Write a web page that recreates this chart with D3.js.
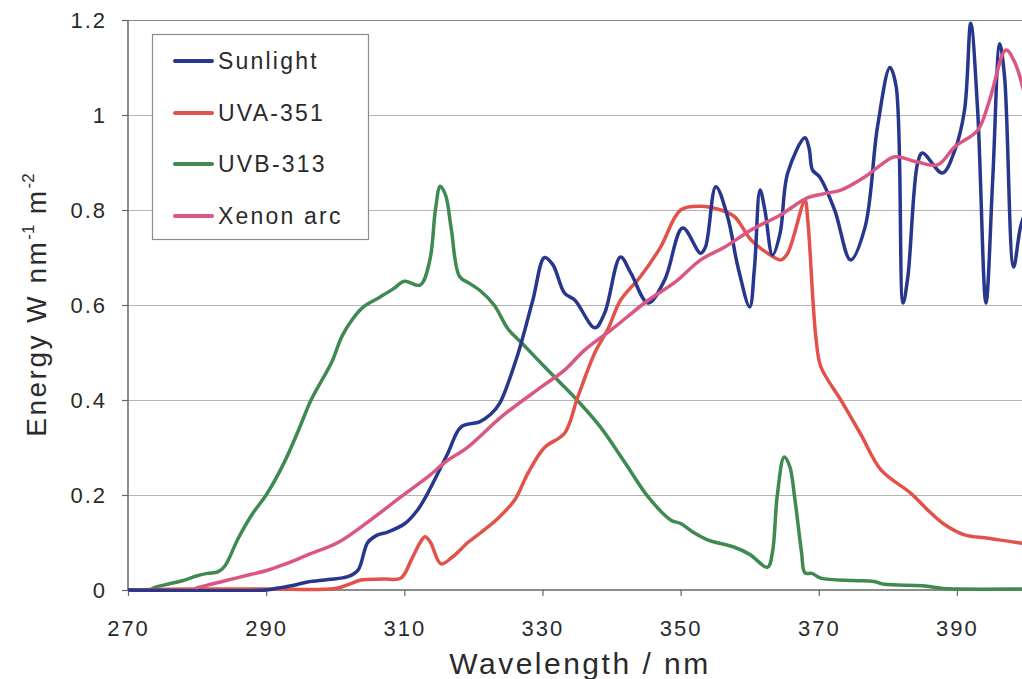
<!DOCTYPE html>
<html>
<head>
<meta charset="utf-8">
<script src="https://cdn.jsdelivr.net/npm/d3@7"></script>
<style>
  body { margin: 0; background: #fff; }
  svg { display: block; font-family: "Liberation Sans", Arial, sans-serif; }
</style>
</head>
<body>
<div id="chart"></div>
<script>
// values: [wavelength nm, energy W nm-1 m-2]
var sunlight = [
  [270,0],[290,0],[291.7,0.004],[294,0.01],[296,0.017],[299,0.022],[301.8,0.028],[303.3,0.042],
  [304.7,0.1],[306,0.115],[307.6,0.122],[310.1,0.14],[312,0.17],[313.4,0.204],[316.3,0.288],
  [318.2,0.343],[320.9,0.354],[322.5,0.37],[323.8,0.393],[326.3,0.49],[328.6,0.61],[330.3,0.7],
  [331.5,0.685],[333.2,0.625],[334.7,0.61],[337.6,0.552],[339,0.583],[341.3,0.701],[342.8,0.667],
  [345.3,0.604],[347.7,0.653],[350.3,0.762],[352.9,0.709],[353.6,0.722],[355.1,0.849],[356.8,0.786],
  [358.3,0.68],[360,0.596],[360.7,0.68],[361.5,0.842],[362.2,0.8],[363.3,0.705],[364.4,0.751],
  [365.5,0.878],[368,0.952],[368.6,0.93],[369.1,0.884],[370.1,0.87],[372.3,0.8],[374.6,0.695],
  [376.7,0.764],[378.5,0.975],[380.3,1.1],[381.2,1.06],[382.2,0.604],[382.9,0.66],[384.3,0.898],
  [385,0.92],[387.9,0.878],[389.7,0.926],[391.1,1.01],[392,1.193],[393,1.01],[394.2,0.604],
  [395.2,0.87],[396.2,1.15],[396.9,1.08],[398.2,0.68],[399.2,0.764],[400,0.8]
]
var uva351 = [
  [270,0],[273,0.001],[280,0.002],[290,0.002],[300,0.003],[302,0.012],[303.7,0.021],[307,0.023],
  [309.5,0.025],[311,0.063],[312.3,0.1],[313,0.112],[313.8,0.1],[315.3,0.055],[317,0.07],
  [319.2,0.1],[321,0.12],[323.5,0.15],[326,0.19],[327.9,0.246],[330.3,0.3],[333.2,0.33],
  [335.1,0.406],[337.6,0.5],[339.5,0.55],[341.3,0.61],[344.2,0.66],[347.1,0.722],[350,0.8],
  [352.9,0.808],[355.8,0.8],[357.8,0.786],[360.2,0.737],[362.6,0.709],[364.5,0.695],[365.5,0.709],
  [368,0.82],[368.4,0.78],[369.2,0.6],[369.6,0.53],[370.3,0.47],[373.2,0.4],[376,0.33],[379,0.253],
  [383.3,0.204],[385.8,0.168],[388,0.14],[391.1,0.116],[394.5,0.109],[399.2,0.099],[400,0.098]
]
var uvb313 = [
  [270,0],[273,0],[274,0.006],[276,0.013],[278,0.02],[280,0.03],[281.5,0.035],[283,0.038],
  [284,0.05],[286,0.11],[288,0.16],[290,0.2],[292.5,0.265],[294.5,0.33],[296.5,0.4],[298,0.44],
  [299.5,0.48],[301,0.535],[302.5,0.57],[304,0.595],[306.5,0.617],[308.5,0.635],[310,0.65],
  [312.3,0.642],[313.7,0.695],[314.5,0.8],[315.2,0.85],[316,0.83],[316.8,0.76],[318,0.66],
  [319.5,0.645],[321,0.63],[323,0.6],[325,0.55],[327,0.52],[330.3,0.47],[333,0.43],[335,0.4],
  [338.4,0.343],[342,0.267],[345.3,0.196],[348.6,0.147],[350,0.14],[352,0.12],[354,0.105],
  [357.8,0.09],[360,0.075],[362.6,0.048],[363.3,0.08],[364,0.2],[365,0.28],[365.8,0.26],
  [366.5,0.196],[367.5,0.08],[368,0.036],[369,0.035],[370.3,0.025],[375,0.02],[378,0.018],
  [379.5,0.012],[385,0.009],[388,0.003],[390,0.002],[400,0.002]
]
var xenonArc = [
  [280,0.005],[282,0.012],[284.5,0.021],[287,0.03],[290.3,0.042],[293,0.056],[296,0.074],
  [300.4,0.1],[304.7,0.143],[309.5,0.196],[313.4,0.238],[316,0.27],[319.2,0.301],[324,0.364],
  [329.8,0.427],[333.2,0.463],[336.1,0.505],[339.9,0.547],[345.3,0.61],[349.2,0.648],[352.9,0.695],
  [356.4,0.722],[360.2,0.758],[364.5,0.79],[368.4,0.826],[371,0.835],[373.2,0.842],[376.7,0.87],
  [379,0.895],[381,0.912],[384.3,0.901],[387.2,0.895],[389.7,0.933],[393,0.968],[394.7,1.03],
  [397.1,1.137],[398.4,1.11],[400,1.03]
]
var seriesNames = ["Sunlight", "UVA-351", "UVB-313", "Xenon arc"]
var seriesColors = ["#28378e", "#e2524a", "#3e8a50", "#dc5684"]
var xTicks = [270, 290, 310, 330, 350, 370, 390]
var yTicks = [0, 0.2, 0.4, 0.6, 0.8, 1, 1.2]

var width = 1022, height = 679
var plotLeft = 128, plotTop = 20, plotRight = 1026, plotBottom = 590

var svg = d3.select("#chart").append("svg")
  .attr("width", width).attr("height", height)

var x = d3.scaleLinear().domain([270, 400]).range([plotLeft, plotRight])
var y = d3.scaleLinear().domain([0, 1.2]).range([plotBottom, plotTop])

svg.append("clipPath").attr("id", "plot")
  .append("rect").attr("x", plotLeft).attr("y", plotTop - 2)
  .attr("width", plotRight - plotLeft).attr("height", plotBottom - plotTop + 4)

// gridlines
svg.append("g").selectAll("line")
  .data(yTicks.filter(function(d){ return d > 0 }))
  .enter().append("line")
  .attr("x1", plotLeft).attr("x2", width)
  .attr("y1", function(d){ return Math.round(y(d)) + 0.5 })
  .attr("y2", function(d){ return Math.round(y(d)) + 0.5 })
  .attr("stroke", function(d){ return d == 1.2 ? "#8a8a8a" : "#b4b4b4" })
  .attr("stroke-width", 1.2)

// axes
var xAxis = svg.append("g").attr("transform", "translate(0," + plotBottom + ")")
  .call(d3.axisBottom(x).tickValues(xTicks).tickSize(6).tickPadding(24).tickSizeOuter(0))
var yAxis = svg.append("g").attr("transform", "translate(" + plotLeft + ",0)")
  .call(d3.axisLeft(y).tickValues(yTicks).tickSize(6).tickPadding(15).tickSizeOuter(0)
    .tickFormat(function(d){ return d3.format("")(d) }))

;[xAxis, yAxis].forEach(function(a){
  a.select(".domain").attr("stroke", "#666").attr("stroke-width", 1.5)
  a.selectAll(".tick line").attr("stroke", "#666").attr("stroke-width", 1.2)
  a.selectAll("text").attr("fill", "#2a2a2a").style("font-size", "22px").style("letter-spacing", "2px")
})
xAxis.select(".domain").attr("d", "M" + plotLeft + ",0H" + width)
yAxis.select(".domain").attr("d", "M0," + plotTop + "V" + plotBottom)

// curves
var line = d3.line()
  .x(function(d){ return x(d[0]) })
  .y(function(d){ return y(d[1]) })
  .curve(d3.curveCatmullRom.alpha(0.5))

var allSeries = [sunlight, uva351, uvb313, xenonArc]
var drawOrder = [2, 1, 0, 3]
svg.append("g").attr("clip-path", "url(#plot)")
  .selectAll("path")
  .data(drawOrder)
  .enter().append("path")
  .attr("d", function(i){ return line(allSeries[i]) })
  .attr("fill", "none")
  .attr("stroke", function(i){ return seriesColors[i] })
  .attr("stroke-width", 3.5)
  .attr("stroke-linejoin", "round")
  .attr("stroke-linecap", "round")

// legend
var legend = svg.append("g")
legend.append("rect")
  .attr("x", 152.5).attr("y", 34.5).attr("width", 216).attr("height", 205)
  .attr("fill", "#fff").attr("stroke", "#8c8c8c").attr("stroke-width", 1.2)
var legendY = [61, 113, 164, 216]
seriesNames.forEach(function(name, i){
  legend.append("line")
    .attr("x1", 175).attr("x2", 212).attr("y1", legendY[i]).attr("y2", legendY[i])
    .attr("stroke", seriesColors[i]).attr("stroke-width", 4).attr("stroke-linecap", "round")
  legend.append("text")
    .attr("x", 218).attr("y", legendY[i] + 8)
    .attr("fill", "#2a2a2a")
    .style("font-size", "23px").style("letter-spacing", "2.2px")
    .text(name)
})

// axis titles
svg.append("text")
  .attr("x", 580).attr("y", 674)
  .attr("text-anchor", "middle")
  .attr("fill", "#2a2a2a")
  .style("font-size", "30px").style("letter-spacing", "2.5px")
  .text("Wavelength / nm")

var yTitle = svg.append("text")
  .attr("transform", "translate(46,305) rotate(-90)")
  .attr("text-anchor", "middle")
  .attr("fill", "#2a2a2a")
  .style("font-size", "28px").style("letter-spacing", "2.5px")
yTitle.append("tspan").text("Energy W nm")
yTitle.append("tspan").attr("dy", -12).style("font-size", "17px").style("letter-spacing", "0px").text("-1")
yTitle.append("tspan").attr("dy", 12).text(" m")
yTitle.append("tspan").attr("dy", -12).style("font-size", "17px").style("letter-spacing", "0px").text("-2")
</script>
</body>
</html>
